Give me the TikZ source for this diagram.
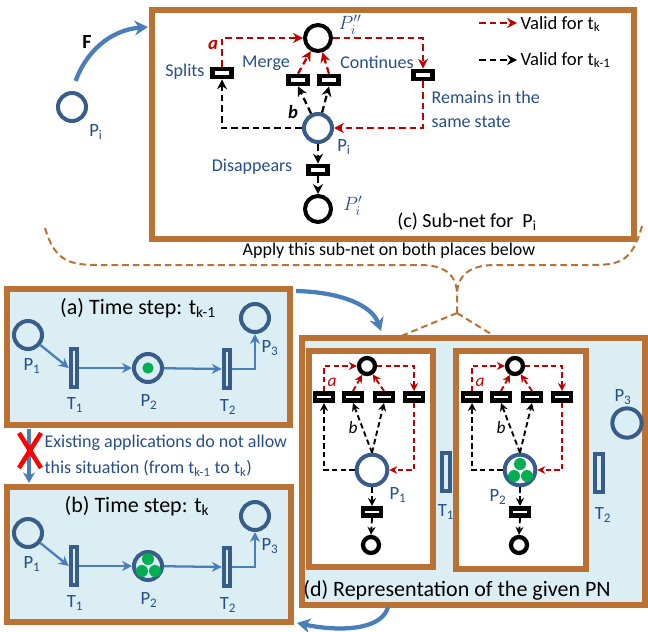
\documentclass[tikz,border=0pt]{standalone}
\usepackage{fontspec}
\setmainfont{Carlito}
\usepackage{tikz}
\usetikzlibrary{arrows.meta}

\definecolor{framebrown}{RGB}{185,114,52}
\definecolor{paleblue}{RGB}{219,238,244}
\definecolor{placeblue}{RGB}{56,93,138}
\definecolor{textblue}{RGB}{40,78,135}
\definecolor{arrowblue}{RGB}{74,126,187}
\definecolor{darkred}{RGB}{192,0,0}
\definecolor{tokengreen}{RGB}{0,176,80}

\tikzset{
  boxframe/.style={draw=framebrown, line width=3.8pt},
  placec/.style={circle, draw=placeblue, line width=3pt, minimum size=21pt, inner sep=0pt},
  bplace/.style={placec, draw=black, minimum size=19.5pt},
  transc/.style={rectangle, draw=black, fill=white, line width=3.5pt, minimum width=14pt, minimum height=6pt, inner sep=0pt},
  tbar/.style={rectangle, draw=placeblue, line width=2.8pt, minimum width=5pt, minimum height=28.5pt, inner sep=0pt},
  mplace/.style={circle, draw=black, line width=3.2pt, minimum size=12pt, inner sep=0pt},
  mtrans/.style={transc, minimum width=13.5pt, minimum height=5.5pt},
  lbl/.style={text=textblue, font=\fontsize{13.5}{15}\selectfont, inner sep=1pt},
  plbl/.style={text=textblue, font=\fontsize{14}{16}\selectfont, inner sep=1pt},
  steptitle/.style={font=\fontsize{16.5}{18}\selectfont, inner sep=1pt},
  legend/.style={font=\fontsize{14}{16}\selectfont, inner sep=1pt, anchor=west},
  redarc/.style={draw=darkred, line width=1.7pt, dash pattern=on 5pt off 3pt, -{Stealth[length=7.5pt,width=7.5pt]}},
  blackarc/.style={redarc, draw=black},
  mred/.style={redarc, line width=1.4pt, dash pattern=on 4pt off 2.5pt, -{Stealth[length=6pt,width=6pt]}},
  mblack/.style={mred, draw=black},
  flow/.style={draw=arrowblue, line width=1.7pt, -{Stealth[length=7.5pt,width=7.5pt]}},
  bigflow/.style={draw=arrowblue, line width=3.2pt, -{Stealth[length=10pt,width=11pt]}},
  brace/.style={draw=framebrown, line width=1.5pt, dash pattern=on 5pt off 3pt},
  token/.style={circle, fill=tokengreen, inner sep=0pt, minimum size=8.5pt},
  arclbl/.style={font=\bfseries\itshape\fontsize{14}{16}\selectfont, inner sep=1pt},
}

\begin{document}
\begin{tikzpicture}[x=0.75pt, y=-0.75pt]
  \useasboundingbox (0,0) rectangle (648,631);

  % the place P_i and its mapping F
  \node[placec] (pbig) at (72,107) {};
  \node[plbl] (lpbig) at (96,132) {P\textsubscript{i}};
  \node[font=\bfseries\fontsize{15}{17}\selectfont] (lf) at (87,42) {F};
  \coordinate (cin) at (148,27);
  \draw[bigflow, shorten <=8pt] (pbig.north) .. controls (86,52) and (110,30) .. (cin);

  % (c) sub-net
  \draw[boxframe, fill=white] (152,10) rectangle (634,239);
  \node[bplace] (pii) at (318,38) {};
  \node[placec] (pi) at (318,128) {};
  \node[bplace] (pis) at (318,209) {};
  \node[transc] (splits) at (222,73) {};
  \node[transc] (merge) at (298,80) {};
  \node[transc] (cont) at (329,80) {};
  \node[transc] (remains) at (423,75) {};
  \node[transc] (disap) at (318,170) {};

  \draw[redarc] (splits.north) |- (pii.west);
  \draw[redarc] (merge.north) -- (pii);
  \draw[redarc] (cont.north) -- (pii);
  \draw[redarc] (pii.east) -| (remains.north);
  \draw[redarc] (remains.south) |- (pi.east);
  \draw[blackarc] (pi.west) -| (splits.south);
  \draw[blackarc] (pi) -- (merge.south);
  \draw[blackarc] (pi) -- (cont.south);
  \draw[blackarc] (pi.south) -- (disap.north);
  \draw[blackarc] (disap.south) -- (pis.north);

  \node[lbl] (lsplits) at (185,72) {Splits};
  \node[lbl] (lmerge) at (266,63) {Merge};
  \node[lbl] (lcont) at (377,62) {Continues};
  \node[lbl, anchor=west] (lremains) at (430,97) {Remains in the};
  \node[lbl, anchor=west] (lsame) at (430,122) {same state};
  \node[lbl] (ldisap) at (252,167) {Disappears};
  \node[plbl] (lpi) at (344,147) {P\textsubscript{i}};
  \node[text=textblue, font=\fontsize{14}{16}\selectfont] (lpii) at (350,25) {$P_i''$};
  \node[text=textblue, font=\fontsize{14}{16}\selectfont] (lpis) at (353,206) {$P_i'$};
  \node[arclbl, text=darkred] (la) at (213,45) {a};
  \node[arclbl] (lb) at (293,112) {b};
  \node[font=\fontsize{15}{17}\selectfont] (lc) at (467,222) {(c) Sub-net for ~P\textsubscript{i}};

  % legend
  \coordinate (kr1) at (479,23);
  \coordinate (kr2) at (517,23);
  \coordinate (kb1) at (479,60);
  \coordinate (kb2) at (517,60);
  \draw[redarc] (kr1) -- (kr2);
  \draw[blackarc] (kb1) -- (kb2);
  \node[legend] (lk) at (519,24) {Valid for t\textsubscript{k}};
  \node[legend] (lk1) at (519,60) {Valid for t\textsubscript{k-1}};

  % apply the sub-net
  \node[font=\fontsize{13.5}{15}\selectfont] (lapply) at (389,251) {Apply this sub-net on both places below};
  \coordinate (bl) at (45,228);
  \coordinate (br) at (642,226);
  \coordinate (bj) at (457,295);
  \coordinate (fork) at (457,313);
  \coordinate (d1in) at (377,346);
  \coordinate (d2in) at (512,347);
  \draw[brace] (bl) .. controls (55,262) and (70,265) .. (100,265) -- (420,265)
    .. controls (445,265) and (457,275) .. (bj);
  \draw[brace] (br) .. controls (632,262) and (620,265) .. (590,265) -- (495,265)
    .. controls (470,265) and (457,275) .. (bj) -- (fork);
  \draw[brace, -{Stealth[length=7pt,width=7pt]}] (fork) -- (d1in);
  \draw[brace, -{Stealth[length=7pt,width=7pt]}] (fork) -- (d2in);

  % (a) and (b) time steps
  \draw[boxframe, fill=paleblue] (7,289) rectangle (290,425);
  \draw[boxframe, fill=paleblue] (7,487) rectangle (291,622);
  \foreach \r/\dy in {a/0, b/198} {
    \begin{scope}[shift={(0,\dy)}]
      \node[placec] (\r p1) at (28,335) {};
      \node[tbar] (\r t1) at (74,368) {};
      \node[placec] (\r p2) at (148,368) {};
      \node[tbar] (\r t2) at (227,369) {};
      \node[placec] (\r p3) at (255,318) {};
      \draw[flow] (\r p1) -- (\r t1.west);
      \draw[flow] (\r t1.east) -- (\r p2);
      \draw[flow] (\r p2) -- (\r t2.west);
      \draw[flow] (\r t2.east) -| (\r p3.south);
      \node[plbl] (\r lp1) at (32,366) {P\textsubscript{1}};
      \node[plbl] (\r lt1) at (75,405) {T\textsubscript{1}};
      \node[plbl] (\r lp2) at (149,402) {P\textsubscript{2}};
      \node[plbl] (\r lt2) at (228,407) {T\textsubscript{2}};
      \node[plbl] (\r lp3) at (270,348) {P\textsubscript{3}};
    \end{scope}
  }
  \node[steptitle] (la) at (138,308) {(a) Time step: t\textsubscript{k-1}};
  \node[steptitle] (lbt) at (137,506) {(b) Time step: t\textsubscript{k}};
  \node[token] (atok) at (148,368) {};
  \node[token, minimum size=9pt] (btok1) at (148,559) {};
  \node[token, minimum size=9pt] (btok2) at (142,571) {};
  \node[token, minimum size=9pt] (btok3) at (155,571) {};

  % not allowed
  \coordinate (xs) at (29,429);
  \coordinate (xe) at (29,483);
  \draw[draw=arrowblue, line width=3pt, -{Stealth[length=8pt,width=9pt]}] (xs) -- (xe);
  \draw[red, line width=3.4pt] (19,433) -- (41,468) (41,433) -- (19,468);
  \node[lbl, anchor=west] (lnote1) at (43,443) {Existing applications do not allow};
  \node[lbl, anchor=west] (lnote2) at (43,468) {this situation (from t\textsubscript{k-1} to t\textsubscript{k})};

  % (d) representation
  \draw[boxframe, fill=paleblue] (302,338) rectangle (645,605);
  \draw[boxframe, fill=white] (309,351) rectangle (433,567);
  \draw[boxframe, fill=white] (456,351) rectangle (586,569);
  \foreach \i/\x in {1/367, 2/515} {
    \begin{scope}[shift={(\x,0)}]
      \node[mplace] (m\i-top) at (0,366) {};
      \node[mtrans] (m\i-ta) at (-43,397) {};
      \node[mtrans] (m\i-tb) at (-14,397) {};
      \node[mtrans] (m\i-tc) at (17,397) {};
      \node[mtrans] (m\i-td) at (47,397) {};
      \node[placec, minimum size=23pt] (m\i-p) at (5,470) {};
      \node[mtrans] (m\i-te) at (5,512) {};
      \node[mplace] (m\i-bot) at (4,545) {};
      \draw[mred] (m\i-ta.north) |- (m\i-top.west);
      \draw[mred] (m\i-tb.north) -- (m\i-top);
      \draw[mred] (m\i-tc.north) -- (m\i-top);
      \draw[mred] (m\i-top.east) -| (m\i-td.north);
      \draw[mred] (m\i-td.south) |- (m\i-p.east);
      \draw[mblack] (m\i-p.west) -| (m\i-ta.south);
      \draw[mblack] (m\i-p.north) -- (m\i-tb.south);
      \draw[mblack] (m\i-p.north) -- (m\i-tc.south);
      \draw[mblack] (m\i-p.south) -- (m\i-te.north);
      \draw[mblack] (m\i-te.south) -- (m\i-bot.north);
      \node[arclbl, text=darkred, font=\itshape\fontsize{13}{15}\selectfont] (m\i-la) at (-35,382) {a};
      \node[arclbl, font=\itshape\fontsize{13}{15}\selectfont] (m\i-lb) at (-14,428) {b};
    \end{scope}
  }
  \node[token, minimum size=9pt] (dtok1) at (520,464) {};
  \node[token, minimum size=9pt] (dtok2) at (514,476) {};
  \node[token, minimum size=9pt] (dtok3) at (527,476) {};
  \node[plbl] (lm1) at (398,495) {P\textsubscript{1}};
  \node[plbl] (lm2) at (498,497) {P\textsubscript{2}};
  \node[tbar, minimum width=6pt] (dt1) at (446,472) {};
  \node[tbar, minimum width=6pt] (dt2) at (599,473) {};
  \node[placec, minimum size=22pt] (dp3) at (627,423) {};
  \node[plbl] (ldt1) at (446,512) {T\textsubscript{1}};
  \node[plbl] (ldt2) at (603,515) {T\textsubscript{2}};
  \node[plbl] (ldp3) at (623,397) {P\textsubscript{3}};
  \node[steptitle] (ld) at (457,590) {(d) Representation of the given PN};

  % moves between the views
  \coordinate (aout) at (296,291);
  \coordinate (din) at (381,331);
  \coordinate (dout) at (388,607);
  \coordinate (bin) at (297,623);
  \draw[bigflow] (aout) .. controls (340,292) and (372,305) .. (din);
  \draw[bigflow] (dout) .. controls (382,630) and (340,632) .. (bin);
\end{tikzpicture}
\end{document}
